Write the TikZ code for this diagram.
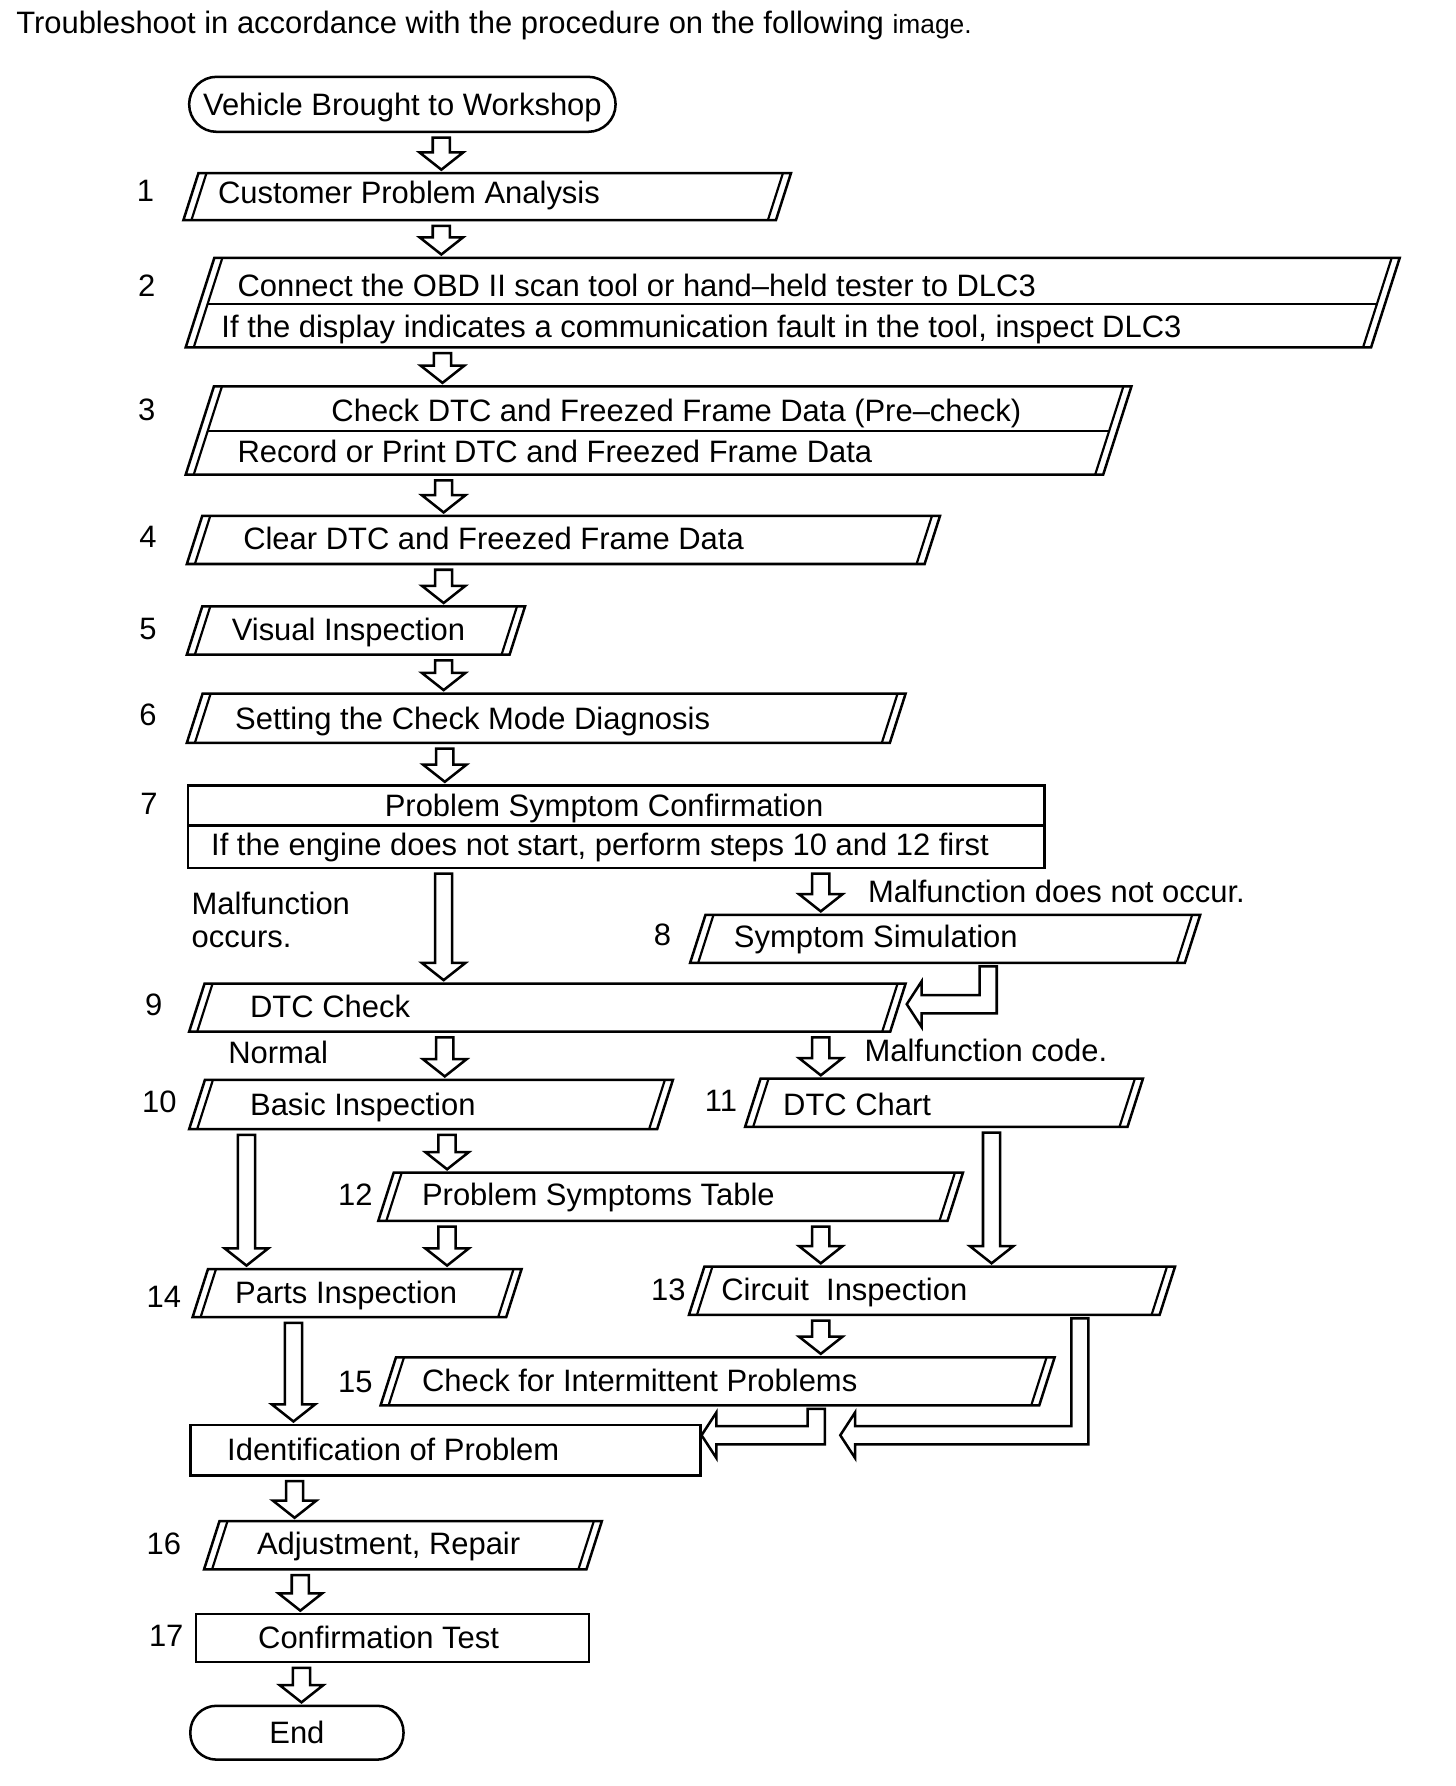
\documentclass[tikz,border=0pt]{standalone}
\usepackage{fontspec}
\setmainfont{Liberation Sans}
\usetikzlibrary{calc}
\tikzset{
  box/.style={line width=2.2pt, line join=miter},
  innerline/.style={line width=1.9pt},
  shapebox/.style={draw, line width=2.2pt, inner sep=0pt, outer sep=0pt},
  barrow/.style={line width=2.2pt, fill=white, line join=miter},
  txt/.style={anchor=west, inner sep=0pt, text height=19.3pt, text depth=0pt, font=\fontsize{27}{31}\selectfont},
  ctxt/.style={anchor=center, inner sep=0pt, text height=19.3pt, text depth=0pt, font=\fontsize{27}{31}\selectfont},
}
% parallelogram with doubled slanted sides: name, x bottom-left, y top, y bottom, x top-right
\newcommand\pbox[5]{%
  \pgfmathsetmacro\pbH{#4-#3}%
  \pgfmathsetmacro\pbD{0.32*\pbH}%
  \pgfmathsetmacro\pbW{#5-#2}%
  \node[inner sep=0pt, outer sep=0pt, minimum width=\pbW pt, minimum height=\pbH pt] (#1) at ({(#2+#5)/2},{(#3+#4)/2}) {};%
  \draw[box] (#2,#4) -- ({#2+\pbD},#3) -- (#5,#3) -- ({#5-\pbD},#4) -- cycle;%
  \draw[innerline] ({#2+7},#4) -- ({#2+\pbD+7},#3);%
  \draw[innerline] ({#5-7},#3) -- ({#5-\pbD-7},#4);%
}
% divider: x bottom-left, y top, y bottom, x top-right, y divider
\newcommand\pdiv[5]{%
  \pgfmathsetmacro\pdD{0.32*(#3-#2)}%
  \pgfmathsetmacro\pdT{(#5-#2)/(#3-#2)}%
  \draw[box] ({#1+\pdD*(1-\pdT)+7},#5) -- ({#4-\pdD*\pdT-7},#5);%
}
% hollow down arrow: x, from node, to node
\newcommand\darrow[3]{%
  \draw[barrow] let \p1=(#2.south), \p2=(#3.north) in
    (#1pt-7.5pt,\y1-5pt) -- (#1pt+7.5pt,\y1-5pt) -- (#1pt+7.5pt,\y2+18pt) -- (#1pt+19pt,\y2+18pt)
    -- (#1pt,\y2+3pt) -- (#1pt-19pt,\y2+18pt) -- (#1pt-7.5pt,\y2+18pt) -- cycle;}
% hollow L arrow (down then left): x of vertical, from node, tip target, y of horizontal
\newcommand\larrow[4]{%
  \draw[barrow] let \p1=(#2.south), \p2=(#3) in
    (#1pt-7.5pt,\y1-3pt) -- (#1pt+7.5pt,\y1-3pt) -- (#1pt+7.5pt,-#4pt-8pt) -- (\x2+14pt,-#4pt-8pt)
    -- (\x2+14pt,-#4pt-20pt) -- (\x2+1pt,-#4pt) -- (\x2+14pt,-#4pt+20pt) -- (\x2+14pt,-#4pt+8pt)
    -- (#1pt-7.5pt,-#4pt+8pt) -- cycle;}
\begin{document}
\begin{tikzpicture}[x=1pt,y=-1pt]
\useasboundingbox (0,0) rectangle (1270,1558);

% title
\node[txt, font=\fontsize{27}{31}\selectfont] (title) at (14,20) {Troubleshoot in accordance with the procedure on the following {\fontsize{23}{27}\selectfont image.}};

% start
\node[shapebox, rounded corners=24pt, minimum width=372pt, minimum height=48pt] (start) at (351,91) {};
\node[ctxt] (starttxt) at (351,91) {Vehicle Brought to Workshop};

% step boxes
\pbox{s1}{160}{151}{192}{690}
\pbox{s2}{162}{225}{303}{1221}
\pdiv{162}{225}{303}{1221}{265}
\pbox{s3}{162}{337}{414}{987}
\pdiv{162}{337}{414}{987}{376}
\pbox{s4}{163}{450}{492}{820}
\pbox{s5}{163}{529}{571}{458}
\pbox{s6}{163}{605}{648}{790}
\node[shapebox, minimum width=747pt, minimum height=72pt] (s7) at (537.5,721) {};
\draw[box] (164,720) -- (911,720);
\pbox{s8}{602}{798}{840}{1047}
\pbox{s9}{165}{858}{900}{790}
\pbox{s10}{165}{942}{985}{587}
\pbox{s11}{650}{941}{983}{997}
\pbox{s12}{330}{1023}{1065}{840}
\pbox{s14}{168}{1107}{1149}{455}
\pbox{s13}{601}{1105}{1147}{1025}
\pbox{s15}{332}{1184}{1226}{920}
\node[shapebox, minimum width=445pt, minimum height=44pt] (id) at (388.5,1265) {};
\pbox{s16}{178}{1327}{1369}{525}
\node[shapebox, minimum width=343pt, minimum height=42pt] (s17) at (342.5,1429) {};
\node[shapebox, rounded corners=23pt, minimum width=186pt, minimum height=47pt] (end) at (259,1511.5) {};

% texts
\node[txt] (t1) at (190,168) {Customer Problem Analysis};
\node[txt] (t2a) at (207,249) {Connect the OBD II scan tool or hand–held tester to DLC3};
\node[txt] (t2b) at (193,285) {If the display indicates a communication fault in the tool, inspect DLC3};
\node[ctxt] (t3a) at (590,358) {Check DTC and Freezed Frame Data (Pre–check)};
\node[txt] (t3b) at (207,394) {Record or Print DTC and Freezed Frame Data};
\node[txt] (t4) at (212,470) {Clear DTC and Freezed Frame Data};
\node[txt] (t5) at (202,549) {Visual Inspection};
\node[txt] (t6) at (205,627) {Setting the Check Mode Diagnosis};
\node[ctxt] (t7a) at (527,703) {Problem Symptom Confirmation};
\node[txt] (t7b) at (184,737) {If the engine does not start, perform steps 10 and 12 first};
\node[txt] (lmo1) at (167,788) {Malfunction};
\node[txt] (lmo2) at (167,817) {occurs.};
\node[txt] (lmn) at (757,778) {Malfunction does not occur.};
\node[txt] (t8) at (640,817) {Symptom Simulation};
\node[txt] (t9) at (218,878) {DTC Check};
\node[txt] (lnorm) at (199,918) {Normal};
\node[txt] (lcode) at (754,916) {Malfunction code.};
\node[txt] (t10) at (218,963) {Basic Inspection};
\node[txt] (t11) at (683,963) {DTC Chart};
\node[txt] (t12) at (368,1042) {Problem Symptoms Table};
\node[txt] (t14) at (205,1127) {Parts Inspection};
\node[txt] (t13) at (629,1125) {Circuit\ \ Inspection};
\node[txt] (t15) at (368,1204) {Check for Intermittent Problems};
\node[txt] (tid) at (198,1264) {Identification of Problem};
\node[txt] (t16) at (224,1346) {Adjustment, Repair};
\node[txt] (t17) at (225,1428) {Confirmation Test};
\node[ctxt] (tend) at (259,1511) {End};

% step numbers
\node[ctxt] (n1) at (127,166) {1};
\node[ctxt] (n2) at (128,249) {2};
\node[ctxt] (n3) at (128,357) {3};
\node[ctxt] (n4) at (129,468) {4};
\node[ctxt] (n5) at (129,548) {5};
\node[ctxt] (n6) at (129,623) {6};
\node[ctxt] (n7) at (130,701) {7};
\node[ctxt] (n8) at (578,815) {8};
\node[ctxt] (n9) at (134,876) {9};
\node[ctxt] (n10) at (139,961) {10};
\node[ctxt] (n11) at (629,960) {11};
\node[ctxt] (n12) at (310,1042) {12};
\node[ctxt] (n13) at (583,1125) {13};
\node[ctxt] (n14) at (143,1131) {14};
\node[ctxt] (n15) at (310,1205) {15};
\node[ctxt] (n16) at (143,1346) {16};
\node[ctxt] (n17) at (145,1427) {17};

% arrows
\darrow{385}{start}{s1}
\darrow{385}{s1}{s2}
\darrow{386}{s2}{s3}
\darrow{387}{s3}{s4}
\darrow{387}{s4}{s5}
\darrow{387}{s5}{s6}
\darrow{388}{s6}{s7}
\darrow{387}{s7}{s9}
\darrow{716}{s7}{s8}
\darrow{388}{s9}{s10}
\darrow{716}{s9}{s11}
\darrow{390}{s10}{s12}
\darrow{215}{s10}{s14}
\darrow{865}{s11}{s13}
\darrow{390}{s12}{s14}
\darrow{716}{s12}{s13}
\darrow{716}{s13}{s15}
\darrow{256}{s14}{id}
\darrow{257}{id}{s16}
\darrow{262}{s16}{s17}
\darrow{263}{s17}{end}

\coordinate (j2) at (732,1252);
\larrow{862}{s8}{s9.east}{876}
\larrow{712}{s15}{id.east}{1252}
\larrow{942}{s13}{j2}{1252}
\end{tikzpicture}
\end{document}
